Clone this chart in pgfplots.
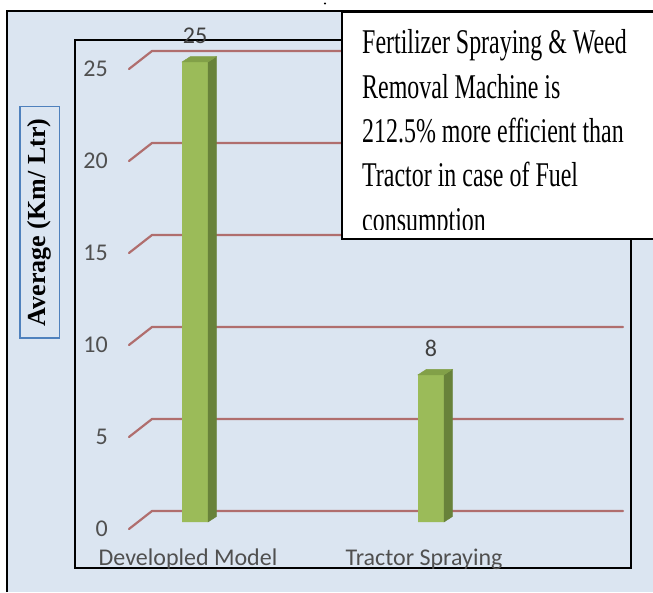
\documentclass[border=0pt]{standalone}
\usepackage{fontspec}
\usepackage{pgfplots}
\pgfplotsset{compat=1.18}
\newfontfamily\carlito{Carlito}
\newfontfamily\boxfont[FakeStretch=0.69]{Liberation Serif}
\newfontfamily\labfont{Liberation Serif}
\definecolor{bgblue}{RGB}{219,229,241}
\definecolor{gridred}{RGB}{176,110,110}
\definecolor{barfront}{RGB}{155,187,89}
\definecolor{barside}{RGB}{104,130,58}
\definecolor{bartop}{RGB}{130,160,72}
\definecolor{labblue}{RGB}{79,129,189}
\definecolor{tickgray}{RGB}{80,80,80}
\definecolor{valgray}{RGB}{64,64,64}
\begin{document}
\begin{tikzpicture}[x=1pt,y=1pt]
\path[use as bounding box] (0,0) rectangle (653,592);
\clip (0,0) rectangle (653,592);
\fill[white] (0,0) rectangle (653,592);
\fill[bgblue] (7,0) rectangle (653,581);
\draw[black, line width=2pt] (7,0) -- (7,581) -- (653,581);
\fill[black] (325,588.5) circle (1.2pt);
% y label
\draw[labblue, line width=1.3pt, fill=bgblue] (20,254) rectangle (59.5,485.3);
\node[rotate=90, inner sep=0pt, font=\labfont\bfseries\fontsize{26}{30}\selectfont] at (39.7,369.6) {Average (Km/ Ltr)};
\begin{axis}[
  at={(75pt,24pt)}, anchor=south west,
  scale only axis, width=556pt, height=528pt,
  xmin=-0.50847, xmax=1.84746, ymin=-2.5, ymax=26.196,
  axis line style={black, line width=1.6pt},
  tick style={draw=none},
  xtick={0,1}, xticklabels={Developled Model, Tractor Spraying},
  ytick={0,5,10,15,20,25}, yticklabels={0,5,10,15,20,25},
  xticklabel style={font=\carlito\fontsize{24}{28}\selectfont, text=tickgray, anchor=base, inner sep=0pt, xshift=-7pt, yshift=2.5pt},
  yticklabel style={font=\carlito\fontsize{24}{28}\selectfont, text=tickgray, anchor=east, inner sep=0pt, xshift=33pt, yshift=-7pt},
  /pgf/number format/assume math mode=true,
  clip=false,
]
\pgfplotsinvokeforeach{0,5,10,15,20,25}{
  \draw[gridred, line width=2.2pt, line cap=round, line join=round]
    ([shift={(-23pt,-7pt)}]axis cs:-0.1822,#1) --
    ([yshift=11pt]axis cs:-0.1822,#1) --
    ([yshift=11pt]axis cs:1.81356,#1);
}
\addplot[ybar, bar width=26pt, bar shift=0pt, fill=barfront, draw=none,
  nodes near coords,
  every node near coord/.append style={font=\carlito\fontsize{24}{28}\selectfont, text=valgray, inner sep=0pt, anchor=base, yshift=18.5pt}]
  coordinates {(0,25) (1,8)};
\addplot[scatter, only marks, mark=text, text mark={},
  visualization depends on={rawy \as \barval},
  scatter/@pre marker code/.code={%
    \pgfmathsetmacro\barh{\barval*18.4}%
    \fill[barside] (13pt,0pt) -- (21.5pt,5.5pt) -- (21.5pt,{5.5pt-\barh pt}) -- (13pt,{-\barh pt}) -- cycle;
    \fill[bartop] (-13pt,0pt) -- (13pt,0pt) -- (21.5pt,5.5pt) -- (-4.5pt,5.5pt) -- cycle;
  },
  scatter/@post marker code/.code={},
] coordinates {(0,25) (1,8)};
\end{axis}
% text box
\draw[black, line width=2pt, fill=white] (342,352.5) rectangle (680,580);
\begin{scope}
\clip (343,362) rectangle (680,579);
\tikzset{boxline/.style={anchor=base west, inner sep=0pt, font=\boxfont\fontsize{34.7}{44}\selectfont}}
\node[boxline] at (362,538) {Fertilizer Spraying \& Weed};
\node[boxline] at (362,493.7) {Removal Machine is};
\node[boxline] at (362,449.4) {212.5\% more efficient than};
\node[boxline] at (362,405.1) {Tractor in case of Fuel};
\node[boxline] at (362,360.8) {consumption};
\end{scope}
\end{tikzpicture}
\end{document}
